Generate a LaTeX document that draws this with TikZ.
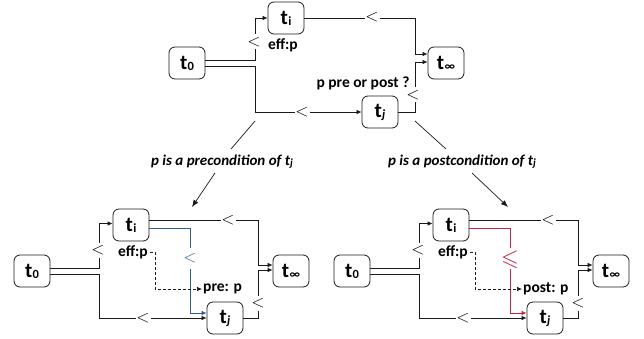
\documentclass[tikz,border=0pt]{standalone}
\usepackage{graphicx}
\usepackage{amssymb}
\usepackage{fontspec}
\setmainfont{Carlito}
\usetikzlibrary{arrows.meta,calc}
\definecolor{myblue}{HTML}{2F5C9C}
\definecolor{myred}{HTML}{CC2244}
\definecolor{ink}{HTML}{1A1A1A}
\tikzset{
 box/.style={draw=ink, rounded corners=6pt, line width=0.8pt, minimum width=36pt, minimum height=32pt, inner sep=0pt, font=\fontsize{21}{21}\selectfont\bfseries},
 ln/.style={line width=0.7pt, draw=ink},
 arr/.style={ln, -{Latex[length=5pt,width=4.5pt]}},
 lt/.style={fill=white, inner sep=0pt, minimum size=15pt, text height=0pt, text depth=0pt, font=\fontsize{17}{17}\selectfont},
 tx/.style={inner sep=0pt, font=\fontsize{15.5}{16}\selectfont\bfseries},
 captxt/.style={inner sep=0pt, font=\fontsize{15}{16}\selectfont\bfseries\itshape},
}
\newcommand\tlab[1]{t\kern0.3pt\raisebox{-1pt}{\fontsize{12.5}{12.5}\selectfont #1}}
\newcommand\lsign[1]{\raisebox{-0.25em}{$#1$}}
\newcommand\bigleq{\raisebox{-0.42em}{\scalebox{1.35}{$\leqslant$}}}
\begin{document}
\begin{tikzpicture}[x=1pt,y=-1pt]
\useasboundingbox (0,0) rectangle (644,339);
% ---------- top diagram ----------
\node[box] (t0) at (187,63) {\tlab{0}};
\node[box] (ti) at (286,18) {\tlab{i}};
\node[box] (tinf) at (446,63) {\tlab{∞}};
\node[box] (tj) at (380,112) {\tlab{\textit{j}}};
\coordinate (xa) at (255,0);
\coordinate (xb) at (415,0);
\coordinate (in1) at ([yshift=9pt]tinf.west);
\coordinate (in2) at ([yshift=1pt]tinf.west);
\draw[arr] ([yshift=3pt]t0.east) -| (xa |- ti.west) -- (ti.west);
\draw[arr] ([yshift=-3pt]t0.east) -| (xa |- tj.west) -- (tj.west);
\draw[arr] (ti.east) -| (xb |- in1) -- (in1);
\draw[arr] (tj.east) -| (xb |- in2) -- (in2);
\node[lt] (m1) at (254,42) {\lsign{<}};
\node[lt] (m2) at (302,112) {\lsign{<}};
\node[lt] (m3) at (372,17) {\lsign{<}};
\node[lt] (m4) at (413,95) {\lsign{<}};
\node[tx] (eff) at (283,45) {eff:p};
\node[tx] (q) at (363,83) {p pre or post ?};
% ---------- captions ----------
\node[captxt] (capL) at (222,162) {p is a precondition of t\raisebox{-1pt}{\fontsize{11}{11}\selectfont j}};
\node[captxt] (capR) at (462,162) {p is a postcondition of t\raisebox{-1pt}{\fontsize{11}{11}\selectfont j}};
\coordinate (l1) at (255,121);
\coordinate (l2) at (231,149);
\coordinate (l3) at (215,173);
\coordinate (l4) at (192,207);
\coordinate (r1) at (415,121);
\coordinate (r2) at (446,149);
\coordinate (r3) at (472,173);
\coordinate (r4) at (508,207);
\draw[ln] (l1) -- (l2);
\draw[ln] (r1) -- (r2);
\draw[ln, -{Latex[length=7pt,width=5.5pt]}] (l3) -- (l4);
\draw[ln, -{Latex[length=7pt,width=5.5pt]}] (r3) -- (r4);
% ---------- bottom diagrams ----------
\foreach \dx/\pf/\col/\sym/\txt in {0/L/myblue/{\lsign{<}}/{pre: p}, 320/R/myred/{\bigleq}/{post: p}}{
\begin{scope}[xshift=\dx pt, name prefix=\pf-]
 \node[box] (t0) at (32,271) {\tlab{0}};
 \node[box] (ti) at (131,225) {\tlab{i}};
 \node[box] (tinf) at (291,271) {\tlab{∞}};
 \node[box] (tj) at (225,318) {\tlab{\textit{j}}};
 \coordinate (xa) at (99,0);
 \coordinate (xb) at (258,0);
 \coordinate (xc) at (190,0);
 \coordinate (xd) at (155,0);
 \coordinate (in1) at ([yshift=6pt]tinf.west);
 \coordinate (in2) at ([yshift=1pt]tinf.west);
 \coordinate (jin) at ([yshift=5pt]tj.west);
 \coordinate (iin) at ([yshift=1.5pt]ti.west);
 \draw[arr] ([yshift=3pt]t0.east) -| (xa |- iin) -- (iin);
 \draw[arr] ([yshift=-3pt]t0.east) -| (xa |- tj.west) -- (tj.west);
 \draw[arr] ([yshift=5pt]ti.east) -| (xb |- in1) -- (in1);
 \draw[arr, draw=\col] ([yshift=-3pt]ti.east) -| (xc |- jin) -- (jin);
 \draw[arr] (tj.east) -| (xb |- in2) -- (in2);
 \node[tx] (eff) at (133,252) {eff:p};
 \node[tx, anchor=west] (pp) at (203,289) {\txt};
 \draw[arr, dash pattern=on 3pt off 2pt] ([xshift=2pt]eff.east) -- (xd |- eff.east) -- (xd |- pp.west) -- ([xshift=-1pt]pp.west);
 \node[lt] (m1) at (98,250) {\lsign{<}};
 \node[lt] (m2) at (143,318) {\lsign{<}};
 \node[lt] (m3) at (228,220) {\lsign{<}};
 \node[lt, text=\col, minimum height=21pt] (m4) at (190,258) {\sym};
 \node[lt] (m5) at (258,303) {\lsign{<}};
\end{scope}
}
\end{tikzpicture}
\end{document}
